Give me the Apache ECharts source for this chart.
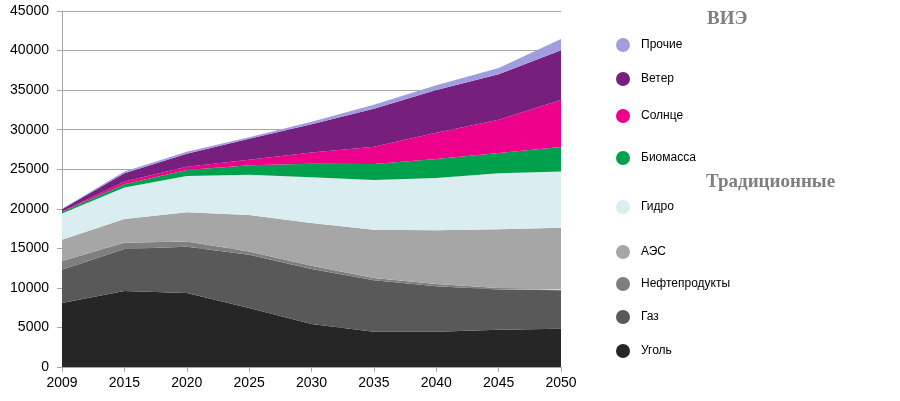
<!DOCTYPE html>
<html>
<head>
<meta charset="utf-8">
<script src="https://cdn.jsdelivr.net/npm/echarts@6/dist/echarts.min.js"></script>
<style>
html,body{margin:0;padding:0;background:#fff;}
#chart{width:900px;height:401px;}
</style>
</head>
<body>
<div id="chart"></div>
<script>
const years = ['2009','2015','2020','2025','2030','2035','2040','2045','2050'];
const coal    = [8100, 9600, 9350, 7450, 5450, 4450, 4450, 4700, 4850];
const gas     = [4200, 5300, 5850, 6750, 6950, 6500, 5750, 5100, 4850];
const oil     = [1100,  800,  650,  400,  400,  300,  300,  200,  100];
const nuclear = [2700, 3000, 3700, 4600, 5400, 6100, 6800, 7400, 7800];
const hydro   = [3300, 4000, 4600, 5100, 5800, 6300, 6600, 7100, 7100];
const biomass = [ 200,  400,  750, 1200, 1700, 2000, 2400, 2550, 3100];
const solar   = [  50,  350,  400,  700, 1400, 2200, 3300, 4200, 5950];
const wind    = [ 300, 1050, 1650, 2650, 3600, 4800, 5400, 5750, 6300];
const other   = [  50,  200,  250,  200,  300,  500,  600,  800, 1400];

const names = ['Уголь','Газ','Нефтепродукты','АЭС','Гидро','Биомасса','Солнце','Ветер','Прочие'];
const values = [coal, gas, oil, nuclear, hydro, biomass, solar, wind, other];
const colors = ['#262626','#595959','#7f7f7f','#a6a6a6','#daedf0','#00a04c','#ec008c','#761f7c','#a09edf'];
const legendY = {'Прочие':45,'Ветер':79,'Солнце':116,'Биомасса':158,'Гидро':207,'АЭС':252,'Нефтепродукты':284,'Газ':317,'Уголь':351};

const chart = echarts.init(document.getElementById('chart'));
const series = names.map((n,i)=>({
  name:n, type:'line', stack:'total', data: values[i],
  symbol:'none', lineStyle:{width:0}, itemStyle:{color:colors[i]},
  areaStyle:{color:colors[i], opacity:1}
}));
const legends = names.map(n=>({
  data:[n], left:616, top:legendY[n]-7, padding:0, icon:'circle', itemWidth:14, itemHeight:14,
  textStyle:{fontFamily:'Liberation Sans, Arial', fontSize:12, color:'#000', padding:[0,0,0,6]},
  selectedMode:false
}));
chart.setOption({
  animation:false,
  backgroundColor:'#fff',
  grid:{left:62, right:339, top:11, bottom:34},
  legend: legends,
  graphic:[
    {type:'text', left:707, top:10, style:{text:'ВИЭ', font:'bold 19px "Liberation Serif", "DejaVu Serif", serif', fill:'#7f7f7f'}},
    {type:'text', left:706, top:173, style:{text:'Традиционные', font:'bold 19px "Liberation Serif", "DejaVu Serif", serif', fill:'#7f7f7f'}}
  ],
  xAxis:{type:'category', data:years, boundaryGap:false,
    axisLine:{lineStyle:{color:'#a6a6a6', width:1}},
    axisTick:{show:true, length:5, lineStyle:{color:'#a6a6a6'}},
    axisLabel:{color:'#000', fontSize:14, fontFamily:'Liberation Sans, Arial', margin:9},
    splitLine:{show:false}},
  yAxis:{type:'value', min:0, max:45000, interval:5000,
    axisLine:{show:true, lineStyle:{color:'#a6a6a6', width:1}},
    axisTick:{show:true, length:5, lineStyle:{color:'#a6a6a6'}},
    axisLabel:{color:'#000', fontSize:14, fontFamily:'Liberation Sans, Arial', margin:13, formatter:v=>String(v)},
    splitLine:{show:true, lineStyle:{color:'#a6a6a6', width:1}}},
  series: series
});
</script>
</body>
</html>
